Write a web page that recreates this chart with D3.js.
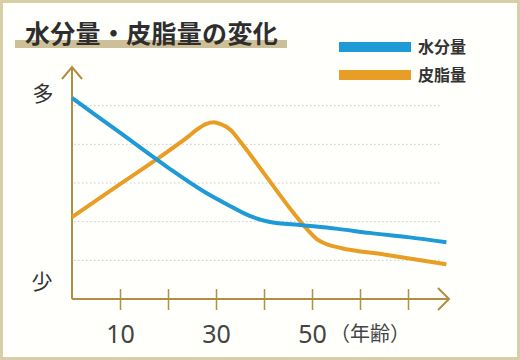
<!DOCTYPE html>
<html><head><meta charset="utf-8">
<script src="https://cdn.jsdelivr.net/npm/d3@7"></script>
<style>
html,body{margin:0;padding:0;background:#fff;}
svg{display:block;}
text{font-family:"Noto Sans CJK JP","Noto Sans",sans-serif;}
</style></head>
<body><svg id="c" width="520" height="360"></svg>
<script>
const title = "水分量・皮脂量の変化";
const seriesNames = ["水分量", "皮脂量"];
const seriesColors = ["#1e9ad6", "#e89e25"];
const ageTicks = [10, 20, 30, 40, 50, 60, 70];
const ageLabels = {10: "10", 30: "30", 50: "50"};
const xUnit = "（年齢）";
const yHigh = "多";
const yLow = "少";
const gridValues = [1, 2, 3, 4, 5];
const waterAge = [0, 10, 20, 28, 33, 37, 41, 48, 55, 62, 70, 78];
const waterVal = [5.2, 4.3, 3.4, 2.74, 2.4, 2.15, 2.0, 1.91, 1.82, 1.71, 1.6, 1.47];
const sebumAge = [0, 10, 20, 24, 26, 28, 29.5, 31, 33, 35, 40, 46, 49, 51, 53, 56, 65, 78];
const sebumVal = [2.12, 2.97, 3.82, 4.18, 4.38, 4.53, 4.57, 4.52, 4.38, 4.08, 3.25, 2.25, 1.8, 1.55, 1.42, 1.32, 1.15, 0.9];

const svg = d3.select("#c");
const axisColor = "#b08e42";

// background and frame
svg.append("rect").attr("x", 1.5).attr("y", 1.5).attr("width", 517).attr("height", 357)
  .attr("fill", "#fffffc").attr("stroke", "#d8cea8").attr("stroke-width", 3);

const x = d3.scaleLinear().domain([0, 80]).range([72, 456]);
const y = d3.scaleLinear().domain([0, 6]).range([299, 67]);

// gridlines
svg.append("g").selectAll("line").data(gridValues).join("line")
  .attr("x1", x(0) + 2).attr("x2", 440)
  .attr("y1", d => y(d)).attr("y2", d => y(d))
  .attr("stroke", "#c8c8c8").attr("stroke-width", 1).attr("stroke-dasharray", "1.5,2.5");

// title
svg.append("rect").attr("x", 15).attr("y", 40).attr("width", 272).attr("height", 8).attr("fill", "#cdbf97");
svg.append("text").attr("x", 25).attr("y", 43).text(title)
  .attr("font-size", 25).attr("font-weight", 700).attr("fill", "#2e2e2e").attr("letter-spacing", 0.3);

// legend
const legY = [47, 75];
seriesNames.forEach((n, i) => {
  svg.append("rect").attr("x", 339).attr("y", legY[i] - 5).attr("width", 72).attr("height", 10).attr("fill", seriesColors[i]);
  svg.append("text").attr("x", 418).attr("y", legY[i]).attr("dy", "0.36em").text(n)
    .attr("font-size", 16).attr("font-weight", 700).attr("fill", "#333");
});

// x axis with ticks
const xAxis = d3.axisBottom(x).tickValues(ageTicks).tickSize(11).tickFormat(d => ageLabels[d] || "");
const gx = svg.append("g").attr("transform", `translate(0,${y(0)})`).call(xAxis);
gx.attr("font-family", null).attr("font-size", null);
gx.select(".domain").remove();
gx.selectAll(".tick line").attr("y1", -10).attr("y2", 11).attr("stroke", axisColor).attr("stroke-width", 1.5);
gx.selectAll(".tick text").attr("y", 44).attr("dy", 0).attr("font-size", 25).attr("fill", "#444")
  .style("font-family", "'Noto Sans', 'Open Sans', sans-serif").attr("font-weight", 400);

svg.append("text").attr("x", 330).attr("y", 341).text(xUnit).attr("font-size", 20).attr("fill", "#444");

// axes lines
svg.append("line").attr("x1", x(0)).attr("x2", 449).attr("y1", y(0)).attr("y2", y(0)).attr("stroke", axisColor).attr("stroke-width", 2);
svg.append("line").attr("x1", x(0)).attr("x2", x(0)).attr("y1", y(0)).attr("y2", 67).attr("stroke", axisColor).attr("stroke-width", 2);
svg.append("path").attr("d", `M${x(0)-10},79 L${x(0)},67 L${x(0)+10},79`).attr("fill", "none").attr("stroke", axisColor).attr("stroke-width", 2);
svg.append("path").attr("d", `M438,288 L449,${y(0)} L438,310`).attr("fill", "none").attr("stroke", axisColor).attr("stroke-width", 2);

// y labels
svg.append("text").attr("x", 43).attr("y", 93).attr("dy", "0.36em").attr("text-anchor", "middle").text(yHigh).attr("font-size", 21).attr("fill", "#333");
svg.append("text").attr("x", 42).attr("y", 281).attr("dy", "0.36em").attr("text-anchor", "middle").text(yLow).attr("font-size", 21).attr("fill", "#333");

// lines
const line = d3.line().x(d => x(d[0])).y(d => y(d[1])).curve(d3.curveMonotoneX);
const water = waterAge.map((a, i) => [a, waterVal[i]]);
const sebum = sebumAge.map((a, i) => [a, sebumVal[i]]);
svg.append("path").datum(sebum).attr("d", line).attr("fill", "none").attr("stroke", seriesColors[1]).attr("stroke-width", 4);
svg.append("path").datum(water).attr("d", line).attr("fill", "none").attr("stroke", seriesColors[0]).attr("stroke-width", 4);
</script></body></html>
